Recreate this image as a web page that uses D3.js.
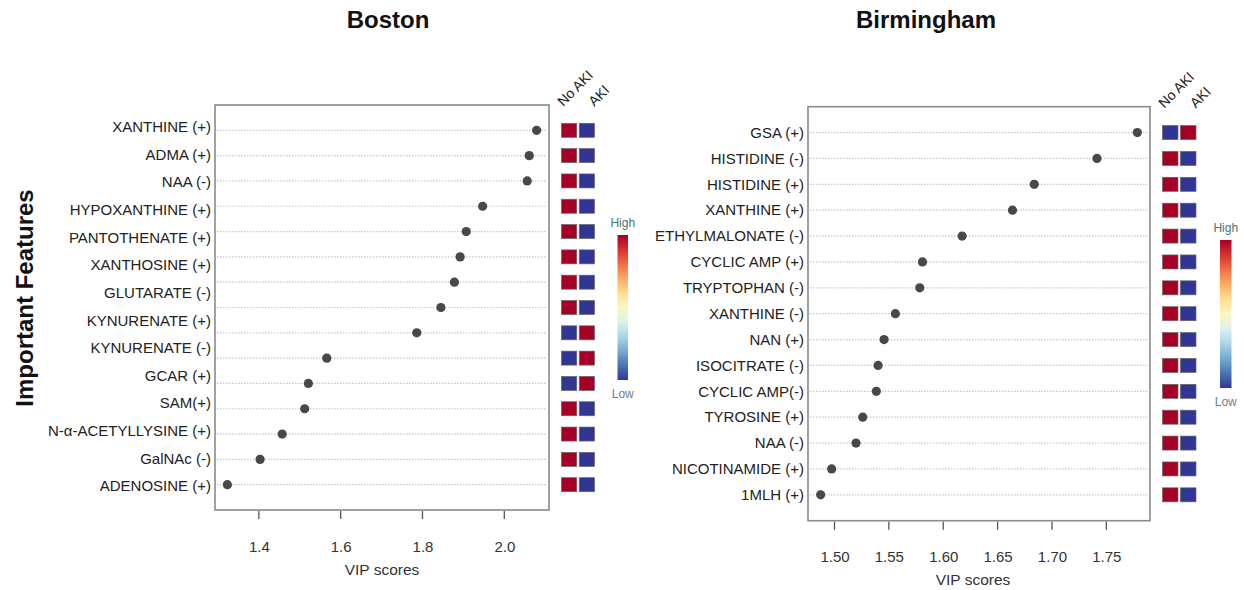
<!DOCTYPE html>
<html><head><meta charset="utf-8">
<script src="https://cdn.jsdelivr.net/npm/d3@7"></script>
<style>body{margin:0;background:#fff}svg{display:block}text{font-family:"Liberation Sans",Arial,sans-serif}</style>
</head><body>
<svg id="c" width="1244" height="590"></svg>
<script>
// ---------- DATA ----------
const bostonLabels = ["XANTHINE (+)","ADMA (+)","NAA (-)","HYPOXANTHINE (+)","PANTOTHENATE (+)","XANTHOSINE (+)","GLUTARATE (-)","KYNURENATE (+)","KYNURENATE (-)","GCAR (+)","SAM(+)","N-\u03b1-ACETYLLYSINE (+)","GalNAc (-)","ADENOSINE (+)"];
const bostonVIP = [2.079,2.061,2.056,1.947,1.907,1.892,1.878,1.845,1.786,1.566,1.521,1.512,1.457,1.403,1.323];
const bostonNoAKI = [1,1,1,1,1,1,1,1,0,0,0,1,1,1,1];
const bostonAKI   = [0,0,0,0,0,0,0,0,1,1,1,0,0,0,0];
const bostonTicks = [1.4,1.6,1.8,2.0];

const birminghamLabels = ["GSA (+)","HISTIDINE (-)","HISTIDINE (+)","XANTHINE (+)","ETHYLMALONATE (-)","CYCLIC AMP (+)","TRYPTOPHAN (-)","XANTHINE (-)","NAN (+)","ISOCITRATE (-)","CYCLIC AMP(-)","TYROSINE (+)","NAA (-)","NICOTINAMIDE (+)","1MLH (+)"];
const birminghamVIP = [1.7785,1.7414,1.6837,1.6637,1.6174,1.5809,1.5784,1.5560,1.5456,1.5401,1.5385,1.5260,1.5198,1.4974,1.4873];
const birminghamNoAKI = [0,1,1,1,1,1,1,1,1,1,1,1,1,1,1];
const birminghamAKI   = [1,0,0,0,0,0,0,0,0,0,0,0,0,0,0];
const birminghamTicks = [1.50,1.55,1.60,1.65,1.70,1.75];

const groups = ["No AKI","AKI"];

// ---------- DRAW ----------
const svg = d3.select("#c");
const FONT = '"Liberation Sans",Arial,sans-serif';
const heat = d3.scaleLinear().domain([0,1]).range(["#313695","#a50026"]);

function panel(cfg){
  const g = svg.append("g");
  const n = cfg.vip.length;
  const ext = d3.extent(cfg.vip), pad = (ext[1]-ext[0])*0.04;
  const x = d3.scaleLinear().domain([ext[0]-pad, ext[1]+pad]).range([cfg.left, cfg.right]);
  const y = d3.scaleLinear().domain([0, n+1]).range([cfg.bottom, cfg.top]);
  const rowY = i => y(n - i);

  // title
  g.append("text").attr("x", cfg.titleX).attr("y", 28).attr("text-anchor","middle")
    .attr("font-size", 24).attr("font-weight","bold").attr("fill","#111").text(cfg.title);

  // grid lines
  g.selectAll("line.grid").data(cfg.vip).join("line").attr("class","grid")
    .attr("x1", cfg.left+2).attr("x2", cfg.right-2)
    .attr("y1", (d,i)=>rowY(i)).attr("y2",(d,i)=>rowY(i))
    .attr("stroke","#c8c8c8").attr("stroke-width",1.2).attr("stroke-dasharray","1.5,1.5");

  // box
  g.append("rect").attr("x",cfg.left).attr("y",cfg.top)
    .attr("width",cfg.right-cfg.left).attr("height",cfg.bottom-cfg.top)
    .attr("fill","none").attr("stroke","#8a8a8a").attr("stroke-width",1.6);

  // dots
  g.selectAll("circle.dot").data(cfg.vip).join("circle").attr("class","dot")
    .attr("cx", d=>x(d)).attr("cy",(d,i)=>rowY(i)).attr("r",4.6).attr("fill","#484848");

  // labels
  const ly = cfg.labelScale ? cfg.labelScale : (d,i)=>rowY(i);
  g.selectAll("text.lab").data(cfg.labels).join("text").attr("class","lab")
    .attr("x", cfg.left-4).attr("y",(d,i)=>ly(d,i)).attr("dy","0.35em")
    .attr("text-anchor","end").attr("font-size",15).attr("fill","#222").text(d=>d);

  // x axis
  const ax = g.append("g").attr("transform",`translate(0,${cfg.bottom})`)
    .call(d3.axisBottom(x).tickValues(cfg.ticks).tickSize(0).tickPadding(cfg.tickPad)
      .tickFormat(cfg.fmt));
  ax.select(".domain").remove();
  ax.selectAll("text").attr("font-size",15).attr("fill","#333").attr("font-family",FONT);
  g.selectAll("line.tk").data(cfg.ticks).join("line").attr("class","tk")
    .attr("x1",d=>x(d)).attr("x2",d=>x(d)).attr("y1",cfg.bottom+cfg.tickGap).attr("y2",cfg.bottom+cfg.tickGap+8)
    .attr("stroke","#555").attr("stroke-width",1.3);
  g.append("text").attr("x",cfg.xlabX).attr("y",cfg.xlabY).attr("text-anchor","middle")
    .attr("font-size",15.5).attr("fill","#333").text("VIP scores");

  // heatmap
  const hx = d3.scaleBand().domain(groups).range(cfg.heatRange).paddingInner(0.14);
  const cols = [cfg.noaki, cfg.aki];
  groups.forEach((grp,gi)=>{
    g.selectAll(`rect.h${gi}`).data(cols[gi]).join("rect").attr("class",`h${gi}`)
      .attr("x", hx(grp)).attr("width", hx.bandwidth())
      .attr("y",(d,i)=>rowY(i)-7).attr("height",14)
      .attr("fill", d=>heat(d)).attr("stroke","#666").attr("stroke-width",0.7);
  });
  // column headers
  const offs = [-6, 7.5];
  groups.forEach((grp,gi)=>{
    const ax0 = hx(grp)+hx.bandwidth()/2 + offs[gi];
    g.append("text").attr("transform",`translate(${ax0},${cfg.top+2}) rotate(-45)`)
      .attr("font-size",14).attr("fill","#222").text(grp);
  });

  // colour bar
  const gid = "grad"+cfg.id;
  const grad = svg.append("defs").append("linearGradient").attr("id",gid)
    .attr("x1","0").attr("y1","0").attr("x2","0").attr("y2","1");
  d3.range(0,1.0001,0.1).forEach(t=>grad.append("stop").attr("offset",t).attr("stop-color",d3.interpolateRdYlBu(t)));
  g.append("rect").attr("x",cfg.cb[0]).attr("y",cfg.cb[1]).attr("width",cfg.cb[2]).attr("height",cfg.cb[3])
    .attr("fill",`url(#${gid})`);
  g.append("text").attr("x",cfg.cb[0]+cfg.cb[2]/2).attr("y",cfg.cb[1]-8).attr("text-anchor","middle")
    .attr("font-size",12).attr("fill","#4f7276").text("High");
  g.append("text").attr("x",cfg.cb[0]+cfg.cb[2]/2).attr("y",cfg.cb[1]+cfg.cb[3]+18).attr("text-anchor","middle")
    .attr("font-size",12).attr("fill","#6d7f82").text("Low");
}

panel({id:"b", title:"Boston", titleX:388, labels:bostonLabels, vip:bostonVIP,
  noaki:bostonNoAKI, aki:bostonAKI, ticks:bostonTicks, fmt:d3.format(".1f"),
  left:215, right:549, top:105, bottom:510, tickGap:1, tickPad:31,
  labelScale: d3.scalePoint().domain(bostonLabels).range([127,486]),
  xlabX:382, xlabY:575, heatRange:[561.5,594.5], cb:[617.5,235,10.5,145]});

panel({id:"m", title:"Birmingham", titleX:926, labels:birminghamLabels, vip:birminghamVIP,
  noaki:birminghamNoAKI, aki:birminghamAKI, ticks:birminghamTicks, fmt:d3.format(".2f"),
  left:808, right:1150, top:106.7, bottom:520.7, tickGap:1, tickPad:31,
  xlabX:973, xlabY:585, heatRange:[1162.5,1196], cb:[1220,240,11.5,148]});

// y axis title
svg.append("text").attr("transform","translate(33,298) rotate(-90)").attr("text-anchor","middle")
  .attr("font-size",24).attr("font-weight","bold").attr("fill","#111").text("Important Features");
</script>
</body></html>
